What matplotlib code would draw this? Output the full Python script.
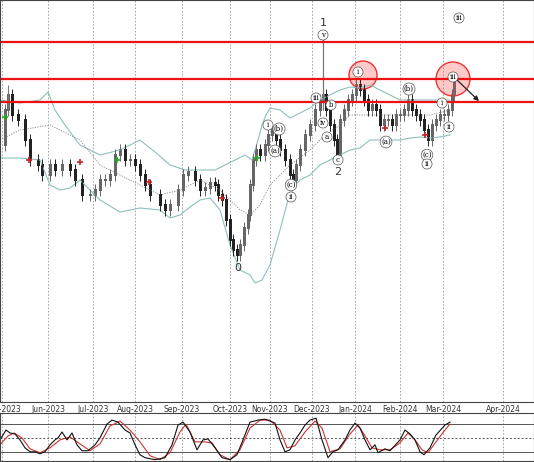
import matplotlib
matplotlib.use("Agg")
import matplotlib.pyplot as plt
from matplotlib.patches import Circle

W, H = 534, 462
month_pos = [2, 48, 93, 135, 182, 230, 270, 312, 355, 400, 443, 503]
month_lab = ["May-2023", "Jun-2023", "Jul-2023", "Aug-2023", "Sep-2023", "Oct-2023",
             "Nov-2023", "Dec-2023", "Jan-2024", "Feb-2024", "Mar-2024", "Apr-2024"]

px_x = [0,5,8,12,18,25,30,38,42,50,55,62,70,75,82,90,95,100,105,110,115,120,125,130,135,140,145,150,
        160,165,170,178,183,188,195,200,205,210,215,218,222,226,230,233,237,240,244,248,250,253,256,260,
        265,268,272,276,280,285,290,293,296,300,305,310,315,320,323,326,330,334,337,340,344,348,352,356,
        360,364,368,372,376,380,384,388,392,396,400,404,408,412,416,420,424,428,432,436,440,444,448,452,454]
px_y = [145,110,95,115,120,140,160,165,175,165,170,165,170,180,195,195,190,180,180,175,155,150,160,160,
        165,175,185,195,205,210,205,190,175,172,180,190,188,183,185,195,200,220,240,250,255,245,228,215,
        185,160,150,155,145,135,130,140,150,160,175,180,165,150,135,125,110,100,95,110,125,140,155,120,
        110,100,95,85,90,100,110,105,110,125,120,120,125,115,115,110,100,110,115,120,130,140,125,120,115,
        115,110,95,78]
close = [402 - v for v in px_y]

bb_x = [0,20,40,48,55,65,80,100,120,140,155,170,185,200,215,225,235,245,252,258,262,266,270,280,290,
        300,310,320,330,340,350,360,370,380,390,400,410,420,430,445,450]
bb_up_px = [100,103,100,92,110,125,145,155,150,140,152,165,170,170,170,165,160,155,160,140,125,115,
            108,110,118,113,108,100,95,90,87,88,85,90,95,100,100,100,100,100,100]
bbl_x = [0,20,40,50,60,70,80,100,120,140,160,170,180,190,200,210,220,230,240,250,255,262,270,280,288,
         295,300,310,320,330,340,350,360,370,380,390,400,410,420,430,440,450]
bb_lo_px = [158,158,160,185,190,188,180,200,212,208,210,218,215,207,200,198,210,245,270,275,283,280,
            265,230,200,185,180,175,165,160,155,150,148,140,140,140,140,138,137,138,137,135]
bbm_x = [0,20,50,80,100,130,160,180,200,220,240,250,260,270,290,310,325,340,350,370,390,410,430,450]
bb_mid_px = [140,130,125,140,165,180,195,190,180,190,210,215,205,185,165,150,135,125,115,115,115,115,115,110]

levels_px = [42, 79, 102]

st_x = [0,6,10,15,20,25,30,35,40,45,50,55,58,62,67,72,77,82,88,95,100,107,112,118,125,130,135,140,145,
        155,165,172,178,183,190,197,203,208,215,222,230,237,243,250,258,265,275,280,285,290,295,300,305,
        310,316,322,328,333,338,345,350,355,360,365,370,375,378,385,390,400,405,410,415,420,424,430,436,445,450]
st_k_px = [440,430,433,434,440,448,452,452,454,452,445,440,438,432,440,433,445,451,451,445,438,424,420,
           422,430,433,445,455,458,460,458,445,425,422,432,450,440,439,448,458,460,455,440,422,420,419,
           423,440,452,450,440,433,425,420,418,440,458,452,450,440,430,423,428,440,450,445,453,449,451,
           440,430,434,440,452,455,448,435,425,422]
sd_x = [0,8,14,22,30,40,50,60,70,80,90,100,110,120,130,140,150,160,170,180,186,195,205,212,220,230,240,
        250,260,270,280,287,295,305,315,322,330,340,350,358,365,372,380,390,400,408,415,422,428,436,445,450]
sd_px = [445,436,433,438,449,453,448,440,437,444,451,444,426,421,430,442,456,460,453,432,424,442,442,443,
         455,460,450,428,420,420,430,448,446,432,421,428,452,449,434,425,436,448,450,450,443,433,440,450,
         453,442,430,424]

def s(v):
    return 20 + (452 - v) * 60 / 28

fig = plt.figure(figsize=(W / 100, H / 100), dpi=100)
ax = fig.add_axes([0, 1 - 402 / H, 1, 402 / H])
ax2 = fig.add_axes([0, 1 - 461 / H, 1, 48 / H])

for a in (ax, ax2):
    for p in month_pos:
        a.axvline(p, color="#999999", lw=0.6, ls=(0, (2, 2)), zorder=0)
    a.set_xlim(0, 534)
    for sp in a.spines.values():
        sp.set_color("#444444"); sp.set_linewidth(0.8)

ax.set_ylim(0, 402)
ax.set_yticks([])
ax.set_xticks(month_pos)
ax.set_xticklabels(month_lab, fontsize=5.5, color="#333333")
ax.tick_params(axis="x", length=0, pad=2)

ax.plot(bb_x, [402 - v for v in bb_up_px], color="#8fbfbf", lw=0.8)
ax.plot(bbl_x, [402 - v for v in bb_lo_px], color="#8fbfbf", lw=0.8)
ax.plot(bbm_x, [402 - v for v in bb_mid_px], color="#888888", lw=0.6, ls=(0, (1.5, 1.5)))

for i in range(1, len(close)):
    x = px_x[i]; o = close[i - 1]; c = close[i]
    hi = max(o, c) + 6; lo = min(o, c) - 6
    col = "#222222" if c < o else "#666666"
    ax.vlines(x, lo, hi, color=col, lw=0.7)
    ax.bar(x, abs(c - o) + 2, bottom=min(o, c) - 1, width=3, color=col, lw=0)
ax.vlines(8, 402 - 115, 402 - 85, color="#777777", lw=0.8)
ax.vlines(323, 402 - 110, 402 - 35, color="#777777", lw=0.9)

for lv in levels_px:
    ax.axhline(402 - lv, color="#ee1111", lw=1.6)

ax.add_patch(Circle((363, 402 - 75), 14, fc=(1, 0.3, 0.3, 0.3), ec="#ee3333", lw=1))
ax.add_patch(Circle((453, 402 - 79), 17, fc=(1, 0.3, 0.3, 0.3), ec="#ee3333", lw=1))
ax.annotate("", xy=(481, 402 - 103), xytext=(455, 402 - 78),
            arrowprops=dict(arrowstyle="-|>", color="#222222", lw=0.9, mutation_scale=7))

circ = dict(boxstyle="circle,pad=0.15", fc="white", ec="#555555", lw=0.5)
labels = [(323, 35, "v"), (358, 72, "i"), (453, 77, "iii"), (459, 18, "iii"), (316, 98, "iii"),
          (331, 105, "b"), (323, 123, "iv"), (327, 137, "a"), (338, 160, "c"), (268, 125, "i"),
          (279, 129, "(b)"), (275, 151, "(a)"), (291, 185, "(c)"), (291, 197, "ii"),
          (386, 142, "(a)"), (409, 89, "(b)"), (427, 155, "(c)"), (427, 164, "ii"),
          (442, 103, "i"), (449, 127, "ii")]
for x, y, t in labels:
    ax.text(x, 402 - y, t, fontsize=5, ha="center", va="center", bbox=circ, family="serif")
ax.text(323, 402 - 23, "1", fontsize=8, ha="center", va="center", color="#333333")
ax.text(338, 402 - 172, "2", fontsize=8, ha="center", va="center", color="#333333")
ax.text(238, 402 - 268, "0", fontsize=8, ha="center", va="center", color="#333333")

for x, y, c in [(5, 117, "#22aa22"), (29, 160, "#cc2222"), (80, 162, "#cc2222"), (117, 160, "#22aa22"),
                (149, 182, "#cc2222"), (222, 198, "#cc2222"), (257, 158, "#22aa22"),
                (385, 128, "#cc2222"), (425, 135, "#cc2222")]:
    ax.plot(x, 402 - y, marker="+", color=c, ms=4, mew=1.2)

ax2.set_ylim(0, 104)
ax2.set_xticks([]); ax2.set_yticks([])
for lv, ls in [(80, "-"), (50, (0, (2, 2))), (20, "-")]:
    ax2.axhline(lv, color="#555555", lw=0.7, ls=ls)
ax2.plot(sd_x, [s(v) for v in sd_px], color="#cc3333", lw=0.8)
ax2.plot(st_x, [s(v) for v in st_k_px], color="#111111", lw=0.8)

fig.savefig("out.png", dpi=100)
